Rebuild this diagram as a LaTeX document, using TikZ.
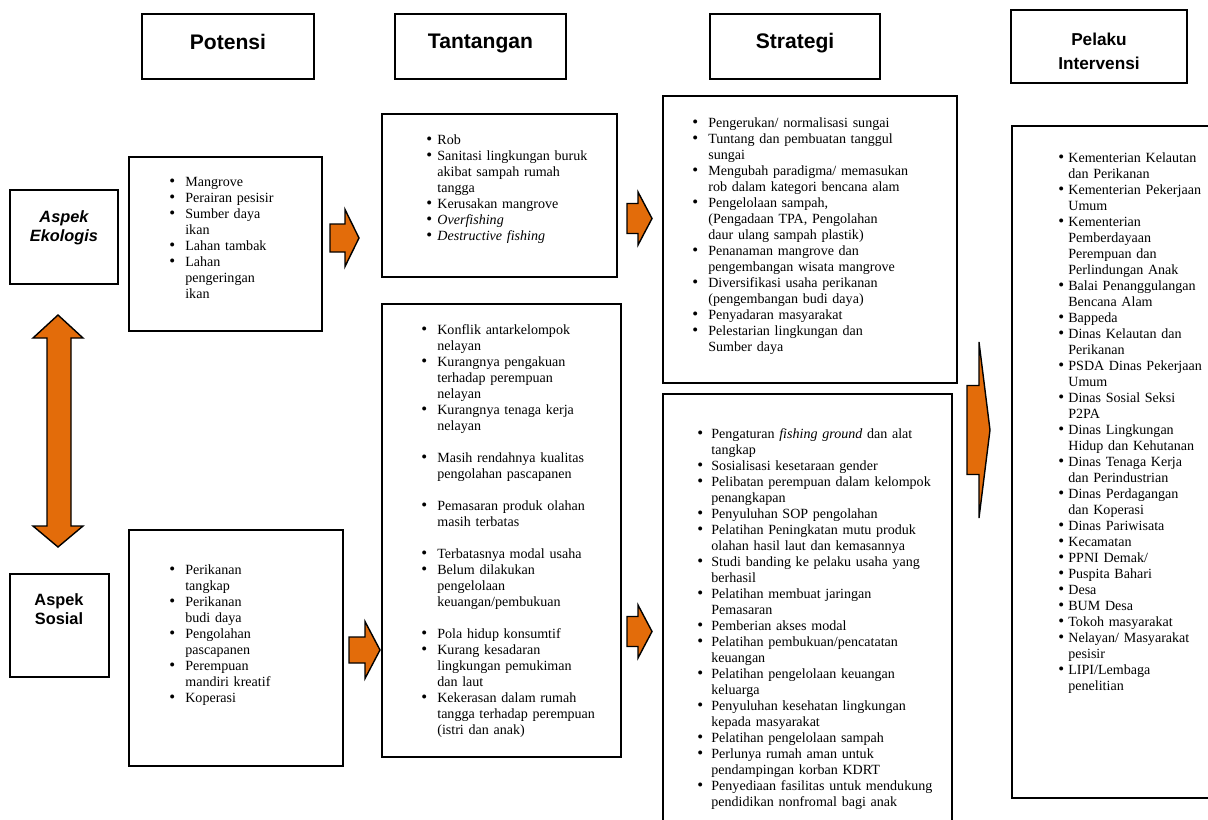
\documentclass[tikz,border=0pt]{standalone}
\usepackage{fontspec}
\setmainfont{Liberation Serif}
\setsansfont{Liberation Sans}
\usepackage{xcolor}
\usetikzlibrary{fit}
\definecolor{arroworange}{HTML}{E36C0A}
\newlength{\bulw}
\newcommand{\bul}[1]{\par\hangindent=\bulw\hangafter=1\noindent\makebox[\bulw][l]{\fontsize{9.5}{9.1}\selectfont\textbullet}#1}
\newcommand{\bulgap}{\par\vspace{9.1pt}}
\newcommand{\listfont}{\fontsize{8}{9.1}\selectfont}
% block arrow: x0, y centre, x head base, x tip, shaft half, head half
\newcommand{\blockarr}[6]{\draw[blockarrow] (#1,#2-#5) -- (#3,#2-#5) -- (#3,#2-#6) -- (#4,#2)
  -- (#3,#2+#6) -- (#3,#2+#5) -- (#1,#2+#5) -- cycle;}
\tikzset{
  box/.style={draw=black, line width=0.9pt, inner sep=0pt},
  hdr/.style={align=center, inner sep=0pt, font=\sffamily\bfseries\fontsize{12}{14}\selectfont},
  hdrsmall/.style={align=center, inner sep=0pt, font=\sffamily\bfseries\fontsize{9.8}{13.7}\selectfont},
  aspek/.style={align=center, inner sep=0pt, font=\sffamily\bfseries\fontsize{9.3}{10.9}\selectfont},
  lst/.style={inner sep=0pt, anchor=base west, align=left, text width=#1, font=\listfont},
  blockarrow/.style={draw=black, line width=0.8pt, fill=arroworange, line join=miter}
}

\begin{document}
\begin{tikzpicture}[x=0.02cm, y=-0.02cm]
\useasboundingbox (0,0) rectangle (1208,819);

% column heads
\node[box, fit={(142,14) (314,79)}] (hPot) {};
\node[hdr] (hPotTxt) at (228,42) {Potensi};
\node[box, fit={(395,14) (566,79)}] (hTan) {};
\node[hdr] (hTanTxt) at (480.5,43) {Tantangan};
\node[box, fit={(710,14) (880,79)}] (hStr) {};
\node[hdr] (hStrTxt) at (795,43) {Strategi};
\node[box, fit={(1011,10) (1187,83)}] (hPel) {};
\node[hdrsmall] (hPelTxt) at (1099,51.5) {Pelaku\\Intervensi};

% aspects
\node[box, fit={(10,190) (118,284)}] (ekoBox) {};
\node[aspek, font=\sffamily\bfseries\itshape\fontsize{9.3}{10.9}\selectfont] (ekoTxt) at (64,228) {Aspek\\Ekologis};
\node[box, fit={(10,574) (109,677)}] (sosBox) {};
\node[aspek] (sosTxt) at (59,609) {Aspek\\Sosial};

% boxes
\node[box, fit={(129,157) (322,331)}] (potEko) {};
\node[box, fit={(129,530) (343,766)}] (potSos) {};
\node[box, fit={(382,114) (617,277)}] (tanEko) {};
\node[box, fit={(382,304) (621,757)}] (tanSos) {};
\node[box, fit={(663,96) (957,383)}] (strEko) {};
\node[box, fit={(663,394) (952,826)}] (strSos) {};
\node[box, fit={(1012,126) (1216,798)}] (pel) {};

% lists
\node[lst=3cm] (potEkoTxt) at (169,171) {\setlength{\bulw}{9.1pt}%
  \bul{Mangrove}\bul{Perairan pesisir}\bul{Sumber daya\newline ikan}%
  \bul{Lahan tambak}\bul{Lahan\newline pengeringan\newline ikan}\par};
\node[lst=3cm] (potSosTxt) at (169,559) {\setlength{\bulw}{9.1pt}%
  \bul{Perikanan\newline tangkap}\bul{Perikanan\newline budi daya}%
  \bul{Pengolahan\newline pascapanen}\bul{Perempuan\newline mandiri kreatif}\bul{Koperasi}\par};
\node[lst=4cm] (tanEkoTxt) at (426,129) {\setlength{\bulw}{6.3pt}%
  \bul{Rob}\bul{Sanitasi lingkungan buruk\newline akibat sampah rumah\newline tangga}%
  \bul{Kerusakan mangrove}\bul{\textit{Overfishing}}\bul{\textit{Destructive fishing}}\par};
\node[lst=4cm] (tanSosTxt) at (421,319) {\setlength{\bulw}{9.1pt}%
  \bul{Konflik antarkelompok\newline nelayan}%
  \bul{Kurangnya pengakuan\newline terhadap perempuan\newline nelayan}%
  \bul{Kurangnya tenaga kerja\newline nelayan}\bulgap
  \bul{Masih rendahnya kualitas\newline pengolahan pascapanen}\bulgap
  \bul{Pemasaran produk olahan\newline masih terbatas}\bulgap
  \bul{Terbatasnya modal usaha}%
  \bul{Belum dilakukan\newline pengelolaan\newline keuangan/pembukuan}\bulgap
  \bul{Pola hidup konsumtif}%
  \bul{Kurang kesadaran\newline lingkungan pemukiman\newline dan laut}%
  \bul{Kekerasan dalam rumah\newline tangga terhadap perempuan\newline (istri dan anak)}\par};
\node[lst=5cm] (strEkoTxt) at (692,112) {\setlength{\bulw}{9.1pt}%
  \bul{Pengerukan/ normalisasi sungai}%
  \bul{Tuntang dan pembuatan tanggul\newline sungai}%
  \bul{Mengubah paradigma/ memasukan\newline rob dalam kategori bencana alam}%
  \bul{Pengelolaan sampah,\newline (Pengadaan TPA, Pengolahan\newline daur ulang sampah plastik)}%
  \bul{Penanaman mangrove dan\newline pengembangan wisata mangrove}%
  \bul{Diversifikasi usaha perikanan\newline (pengembangan budi daya)}%
  \bul{Penyadaran masyarakat}%
  \bul{Pelestarian lingkungan dan\newline Sumber daya}\par};
\node[lst=5.2cm] (strSosTxt) at (697,423) {\setlength{\bulw}{8pt}%
  \bul{Pengaturan \textit{fishing ground} dan alat\newline tangkap}%
  \bul{Sosialisasi kesetaraan gender}%
  \bul{Pelibatan perempuan dalam kelompok\newline penangkapan}%
  \bul{Penyuluhan SOP pengolahan}%
  \bul{Pelatihan Peningkatan mutu produk\newline olahan hasil laut dan kemasannya}%
  \bul{Studi banding ke pelaku usaha yang\newline berhasil}%
  \bul{Pelatihan membuat jaringan\newline Pemasaran}%
  \bul{Pemberian akses modal}%
  \bul{Pelatihan pembukuan/pencatatan\newline keuangan}%
  \bul{Pelatihan pengelolaan keuangan\newline keluarga}%
  \bul{Penyuluhan kesehatan lingkungan\newline kepada masyarakat}%
  \bul{Pelatihan pengelolaan sampah}%
  \bul{Perlunya rumah aman untuk\newline pendampingan korban KDRT}%
  \bul{Penyediaan fasilitas untuk mendukung\newline pendidikan nonfromal bagi anak}\par};
\node[lst=3.2cm] (pelTxt) at (1058,147) {\setlength{\bulw}{5.7pt}%
  \bul{Kementerian Kelautan\newline dan Perikanan}%
  \bul{Kementerian Pekerjaan\newline Umum}%
  \bul{Kementerian\newline Pemberdayaan\newline Perempuan dan\newline Perlindungan Anak}%
  \bul{Balai Penanggulangan\newline Bencana Alam}%
  \bul{Bappeda}%
  \bul{Dinas Kelautan dan\newline Perikanan}%
  \bul{PSDA Dinas Pekerjaan\newline Umum}%
  \bul{Dinas Sosial Seksi\newline P2PA}%
  \bul{Dinas Lingkungan\newline Hidup dan Kehutanan}%
  \bul{Dinas Tenaga Kerja\newline dan Perindustrian}%
  \bul{Dinas Perdagangan\newline dan Koperasi}%
  \bul{Dinas Pariwisata}%
  \bul{Kecamatan}%
  \bul{PPNI Demak/}%
  \bul{Puspita Bahari}%
  \bul{Desa}%
  \bul{BUM Desa}%
  \bul{Tokoh masyarakat}%
  \bul{Nelayan/ Masyarakat\newline pesisir}%
  \bul{LIPI/Lembaga\newline penelitian}\par};

% block arrows
\draw[blockarrow] (58,315) -- (83,338) -- (71,338) -- (71,526) -- (83,526) -- (58,547)
  -- (33,526) -- (47,526) -- (47,338) -- (33,338) -- cycle;
\blockarr{330}{238}{345}{359}{14}{28.5}
\blockarr{627}{218.5}{638}{652}{15}{26.5}
\blockarr{349}{650}{365}{380}{13}{28.5}
\blockarr{627}{631.5}{638}{652}{15}{26.5}
\blockarr{967}{430}{979}{990}{44.5}{88}
\end{tikzpicture}
\end{document}
